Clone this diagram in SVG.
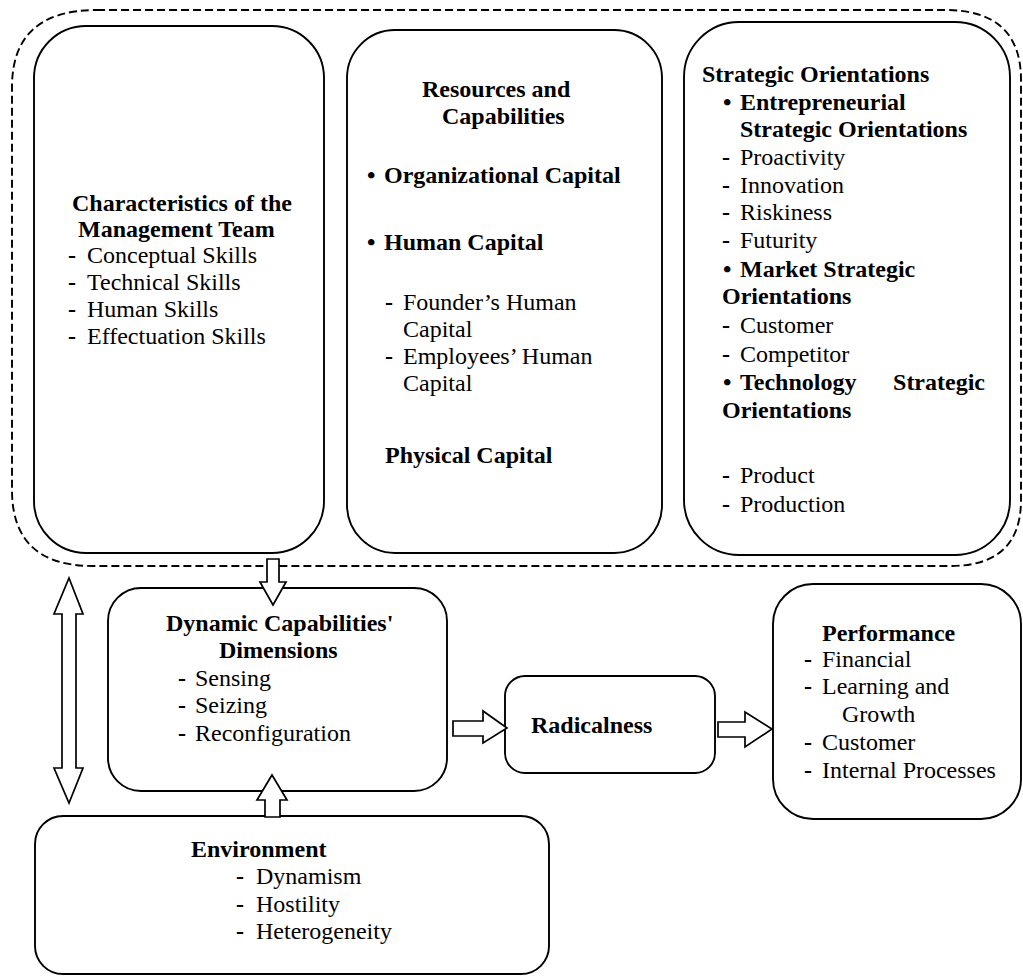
<svg xmlns="http://www.w3.org/2000/svg" width="1023" height="976" viewBox="0 0 1023 976">
<style>
.box{fill:#fff;stroke:#000;stroke-width:1.9}
.dash{fill:none;stroke:#000;stroke-width:1.9;stroke-dasharray:8 4}
.arr{fill:#fff;stroke:#000;stroke-width:1.7;stroke-linejoin:miter}
text{font-family:"Liberation Serif","Times New Roman",serif;font-size:24px;fill:#000}
.b{font-weight:bold}
</style>
<rect width="1023" height="976" fill="#fff"/>
<g id="group-boundary">
<path class="dash" d="M97 10 L945 10 Q1021 10 1021 80 L1021 500 Q1021 566 950 566 L93 566 Q12 566 12 490 L12 87 Q12 10 97 10 Z"/>
</g>
<g id="node-management">
<rect class="box" x="34" y="26" width="290" height="527" rx="52"/>
<text class="b" x="72" y="211">Characteristics of the</text>
<text class="b" x="78" y="237">Management Team</text>
<text x="68" y="263"><tspan class="b">-</tspan><tspan x="87">Conceptual Skills</tspan></text>
<text x="68" y="290"><tspan class="b">-</tspan><tspan x="87">Technical Skills</tspan></text>
<text x="68" y="317"><tspan class="b">-</tspan><tspan x="87">Human Skills</tspan></text>
<text x="68" y="344"><tspan class="b">-</tspan><tspan x="87">Effectuation Skills</tspan></text>
</g>
<g id="node-resources">
<rect class="box" x="347" y="30" width="315" height="523" rx="48"/>
<text class="b" x="422" y="97">Resources and</text>
<text class="b" x="442" y="124">Capabilities</text>
<text class="b" x="367" y="183">•<tspan x="384">Organizational Capital</tspan></text>
<text class="b" x="367" y="250">•<tspan x="384">Human Capital</tspan></text>
<text x="385" y="310"><tspan class="b">-</tspan><tspan x="403">Founder’s Human</tspan></text>
<text x="403" y="337">Capital</text>
<text x="385" y="364"><tspan class="b">-</tspan><tspan x="403">Employees’ Human</tspan></text>
<text x="403" y="391">Capital</text>
<text class="b" x="385" y="463">Physical Capital</text>
</g>
<g id="node-strategic">
<rect class="box" x="684" y="22" width="326" height="533" rx="55"/>
<text class="b" x="702" y="82">Strategic Orientations</text>
<text class="b" x="723" y="110">•<tspan x="740">Entrepreneurial</tspan></text>
<text class="b" x="740" y="137">Strategic Orientations</text>
<text x="722" y="165"><tspan class="b">-</tspan><tspan x="740">Proactivity</tspan></text>
<text x="722" y="193"><tspan class="b">-</tspan><tspan x="740">Innovation</tspan></text>
<text x="722" y="220"><tspan class="b">-</tspan><tspan x="740">Riskiness</tspan></text>
<text x="722" y="248"><tspan class="b">-</tspan><tspan x="740">Futurity</tspan></text>
<text class="b" x="723" y="277">•<tspan x="740">Market Strategic</tspan></text>
<text class="b" x="722" y="304">Orientations</text>
<text x="722" y="333"><tspan class="b">-</tspan><tspan x="740">Customer</tspan></text>
<text x="722" y="362"><tspan class="b">-</tspan><tspan x="740">Competitor</tspan></text>
<text class="b" x="723" y="390">•<tspan x="740">Technology</tspan></text>
<text class="b" x="985" y="390" text-anchor="end">Strategic</text>
<text class="b" x="722" y="418">Orientations</text>
<text x="722" y="483"><tspan class="b">-</tspan><tspan x="740">Product</tspan></text>
<text x="722" y="512"><tspan class="b">-</tspan><tspan x="740">Production</tspan></text>
</g>
<g id="node-dynamic">
<rect class="box" x="108" y="588" width="339" height="203" rx="33"/>
<text class="b" x="166" y="631">Dynamic Capabilities'</text>
<text class="b" x="219" y="658">Dimensions</text>
<text x="178" y="686"><tspan class="b">-</tspan><tspan x="195">Sensing</tspan></text>
<text x="178" y="713"><tspan class="b">-</tspan><tspan x="195">Seizing</tspan></text>
<text x="178" y="741"><tspan class="b">-</tspan><tspan x="195">Reconfiguration</tspan></text>
</g>
<g id="node-radicalness">
<rect class="box" x="505" y="676" width="210" height="97" rx="20"/>
<text class="b" x="531" y="733">Radicalness</text>
</g>
<g id="node-performance">
<rect class="box" x="773" y="584" width="248" height="235" rx="40"/>
<text class="b" x="822" y="641">Performance</text>
<text x="804" y="667"><tspan class="b">-</tspan><tspan x="822">Financial</tspan></text>
<text x="804" y="694"><tspan class="b">-</tspan><tspan x="822">Learning and</tspan></text>
<text x="842" y="722">Growth</text>
<text x="804" y="750"><tspan class="b">-</tspan><tspan x="822">Customer</tspan></text>
<text x="804" y="778"><tspan class="b">-</tspan><tspan x="822">Internal Processes</tspan></text>
</g>
<g id="node-environment">
<rect class="box" x="35" y="816" width="514" height="158" rx="28"/>
<text class="b" x="191" y="857">Environment</text>
<text x="236" y="884"><tspan class="b">-</tspan><tspan x="256">Dynamism</tspan></text>
<text x="236" y="912"><tspan class="b">-</tspan><tspan x="256">Hostility</tspan></text>
<text x="236" y="939"><tspan class="b">-</tspan><tspan x="256">Heterogeneity</tspan></text>
</g>
<g id="connectors">
<polygon class="arr" points="267,559 279,559 279,582 286,582 273,605 260,582 267,582"/>
<polygon class="arr" points="69,578 83,614 76,614 76,768 83,768 69,803 54,768 62,768 62,614 54,614"/>
<polygon class="arr" points="272,775 287,800 280,800 280,817 265,817 265,800 257,800"/>
<polygon class="arr" points="453,721 483,721 483,711 507,728 483,743 483,736 453,736"/>
<polygon class="arr" points="718,722 745,722 745,712 772,729 745,747 745,737 718,737"/>
</g>
</svg>
